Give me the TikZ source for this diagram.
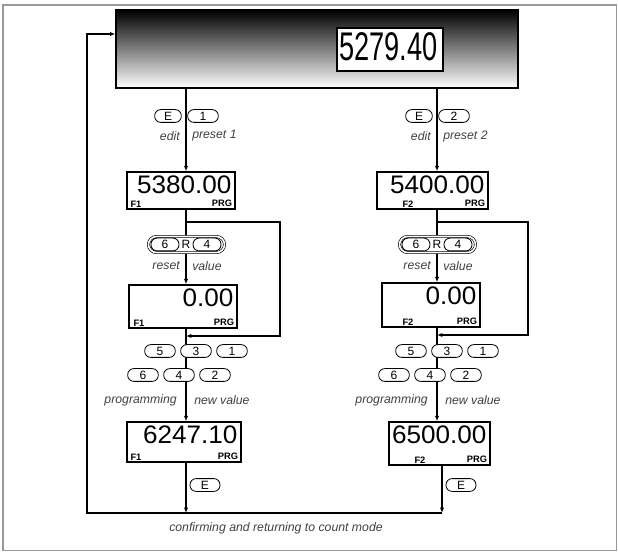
\documentclass[tikz,border=0pt]{standalone}
\usepackage{fontspec}
\setmainfont{Liberation Sans}
\usepackage{graphicx}
\usetikzlibrary{arrows.meta,backgrounds}

\newcommand\lcdfont{\fontsize{19}{19}\selectfont}
\newcommand\lcdbig{\fontsize{30}{30}\selectfont}

\begin{document}
\begin{tikzpicture}[
  x=0.75pt, y=-0.75pt,
  arr/.style={-{Latex[length=4pt,width=3.2pt]}, line width=0.9pt},
  disp/.style={draw, line width=1.1pt, fill=white, inner sep=0pt},
  lcd/.style={inner sep=0pt, font=\lcdfont, anchor=north east},
  tag/.style={inner sep=0pt, font=\fontsize{7}{8}\selectfont\bfseries},
  btn/.style={draw, fill=white, line width=0.6pt, rounded corners=4.6pt,
              minimum width=23pt, minimum height=9.6pt, inner sep=0pt,
              font=\fontsize{9}{9}\selectfont},
  lbl/.style={font=\fontsize{9.2}{11}\selectfont\itshape, text=black!75,
              inner sep=0pt}
]
\useasboundingbox (0,0) rectangle (618,552);
\draw[black!40, line width=1.2pt] (3,5) rectangle (616.5,550.5);

% count mode
\node[draw, line width=1pt, top color=black, bottom color=white,
      minimum width=402*0.75pt, minimum height=78*0.75pt, inner sep=0pt] (topbar) at (317,49) {};
\node[disp, minimum width=106*0.75pt, minimum height=43*0.75pt] (dTop) at (390,49.5) {};
\node[lcd, font=\lcdbig, xshift=-4.5pt, yshift=-3.5pt] (dTop-val) at (dTop.north east) {\scalebox{0.68}[1]{5279.40}};

\coordinate (colA) at (186,0);
\coordinate (colB) at (437,0);
\coordinate (colB2) at (442,0);
\coordinate (lpA) at (280,222);
\coordinate (lpAb) at (280,336);
\coordinate (lpB) at (528,222);
\coordinate (lpBb) at (528,335);
\coordinate (bot) at (87,513);
\coordinate (ret) at (87,34);

% displays
\foreach \n/\x/\y/\w/\h/\val/\fl/\fx in {
    dA1/181/190.5/108/37/5380.00/F1/4,
    dA2/183/306.5/108/43/0.00/F1/5,
    dA3/184/442/114/40/6247.10/F1/4,
    dB1/432.5/190.5/111/37/5400.00/F2/26,
    dB2/431/305/98/44/0.00/F2/21,
    dB3/439.5/443.5/101/43/6500.00/F2/26}
{
  \node[disp, minimum width=\w*0.75pt, minimum height=\h*0.75pt] (\n) at (\x,\y) {};
  \node[lcd, xshift=-3pt, yshift=-3.5pt] (\n-val) at (\n.north east) {\scalebox{1.03}[1]{\val}};
  \node[tag, anchor=south west, xshift=\fx*0.75pt, yshift=1.8pt] (\n-f) at (\n.south west) {\fl};
  \node[tag, anchor=south east, xshift=-2.5pt, yshift=1.8pt] (\n-prg) at (\n.south east) {PRG};
}

% keys and labels
\foreach \c/\cx/\p/\bx in {A/186/1/186, B/437/2/442} {
  \node[btn, minimum width=20pt] (e\c) at (\cx-18,116) {E};
  \node[btn] (p\c) at (\cx+17,116) {\p};
  \node[lbl, anchor=east] (edit\c) at (\cx-6,136) {edit};
  \node[lbl, anchor=west] (pre\c) at (\cx+6,136) {preset \p};

  \node[draw, double, double distance=1.2pt, line width=0.5pt, fill=white,
        rounded corners=6pt, minimum width=57pt, minimum height=12pt] (r\c) at (\cx+0.5,244.5) {};
  \node[btn, minimum width=21pt] (r\c-6) at (\cx-21,244.5) {6};
  \node[inner sep=0pt, font=\fontsize{9}{9}\selectfont] (r\c-R) at (\cx,244.5) {R};
  \node[btn, minimum width=21pt] (r\c-4) at (\cx+21,244.5) {4};
  \node[lbl, anchor=east] (reset\c) at (\cx-6,266) {reset};
  \node[lbl, anchor=west] (value\c) at (\cx+6,266) {value};

  \foreach \k [count=\i] in {5,3,1}
    \node[btn] (k\c\k) at (\cx-62+36*\i,351) {\k};
  \foreach \k [count=\i] in {6,4,2}
    \node[btn] (k\c\k) at (\cx-79+36*\i,375) {\k};
  \node[lbl, anchor=east] (prog\c) at (\cx-9,400) {programming};
  \node[lbl, anchor=west] (new\c) at (\cx+8,400) {new value};

  \node[btn, minimum width=22.5pt] (ok\c) at (\bx+19,485) {E};
}

\node[lbl] (confirm) at (276,528) {confirming and returning to count mode};

% connectors
\begin{scope}[on background layer]
  \foreach \a/\b in {topbar/dA1, dA1/dA2, dA2/dA3}
    \draw[arr] (\a.south -| colA) -- (\b.north -| colA);
  \foreach \a/\b in {topbar/dB1, dB1/dB2, dB2/dB3}
    \draw[arr] (\a.south -| colB) -- (\b.north -| colB);
  \draw[arr] (dA1.south -| colA) |- (lpA) -- (lpAb) -- (lpAb -| colA);
  \draw[arr] (dB1.south -| colB) |- (lpB) -- (lpBb) -- (lpBb -| colB);
  \draw[arr] (dA3.south -| colA) -- (bot -| colA);
  \draw[arr] (dB3.south -| colB2) -- (bot -| colB2);
  \draw[arr] (bot -| colB2) -- (bot) -- (ret) -- (ret -| topbar.west);
\end{scope}
\end{tikzpicture}
\end{document}
